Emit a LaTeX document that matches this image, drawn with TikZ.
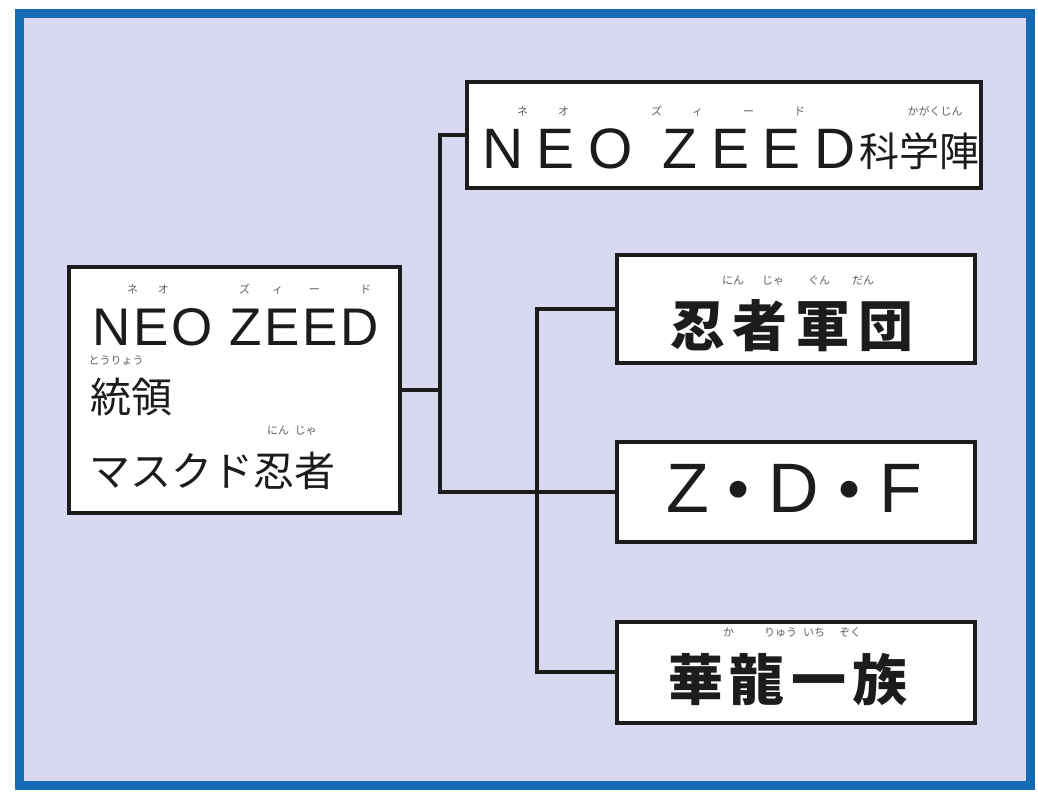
\documentclass[tikz,border=0pt]{standalone}
\usepackage{fontspec}
\setmainfont{Noto Sans CJK JP}
\newfontfamily\lat{Liberation Sans}
\newfontfamily\jp{Noto Sans CJK JP}
\definecolor{bgfill}{RGB}{216,216,240}
\definecolor{frameblue}{RGB}{22,108,180}
\definecolor{ink}{RGB}{28,28,28}
\definecolor{rubycol}{RGB}{95,95,95}
\begin{document}
\begin{tikzpicture}[x=1pt,y=-1pt,
  box/.style={draw=ink,line width=4pt,fill=white,inner sep=0pt},
  txt/.style={inner sep=0pt,anchor=base west,text=ink},
  ruby/.style={inner sep=0pt,anchor=base,text=rubycol,font=\jp\fontsize{11}{11}\selectfont},
  conn/.style={draw=ink,line width=4pt,line cap=rect}]
\useasboundingbox (0,0) rectangle (1038,793);
\fill[white] (0,0) rectangle (1038,793);
\draw[frameblue,fill=bgfill,line width=9pt] (19,13) rectangle (1030,785);
% boxes
\node[box,minimum width=331pt,minimum height=246pt] (b1) at (234.5,390) {};
\node[box,minimum width=514pt,minimum height=106pt] (top) at (724,135) {};
\node[box,minimum width=358pt,minimum height=108pt] (ninja) at (796,309) {};
\node[box,minimum width=358pt,minimum height=100pt] (zdf) at (796,492) {};
\node[box,minimum width=358pt,minimum height=101pt] (karyu) at (796,672) {};
% connectors
\coordinate (j1) at (440,390);
\coordinate (j2) at (537,492);
\draw[conn] (b1.east) -- (j1);
\draw[conn] (top.west) -| (j1) |- (zdf.west);
\draw[conn] (ninja.west) -| (j2) |- (karyu.west);
% box 1 text
\node[txt,font=\lat\fontsize{53}{53}\selectfont\addfontfeature{LetterSpace=5}] (t1a) at (92,345) {NEO ZEED};
\node[ruby] (r1a) at (148,293) {ネ\hspace{20pt}オ};
\node[ruby] (r1b) at (305,293) {ズ\hspace{22pt}ィ\hspace{26pt}ー\hspace{40pt}ド};
\node[txt,font=\jp\fontsize{41}{41}\selectfont] (t1b) at (90,412) {統領};
\node[ruby] (r1c) at (116,364) {とうりょう};
\node[txt,font=\jp\fontsize{41}{41}\selectfont] (t1c) at (89,486) {マスクド忍者};
\node[ruby] (r1d) at (292,434) {にん\hspace{6pt}じゃ};
% top box text
\node[txt,font=\lat\fontsize{57}{57}\selectfont\addfontfeature{LetterSpace=24}] (t2a) at (482,168) {NEO ZEED};
\node[txt,font=\jp\fontsize{40}{40}\selectfont] (t2b) at (859,166) {科学陣};
\node[ruby] (r2a) at (543,115) {ネ\hspace{30pt}オ};
\node[ruby] (r2b) at (728,115) {ズ\hspace{30pt}ィ\hspace{40pt}ー\hspace{40pt}ド};
\node[ruby] (r2c) at (935,115) {かがくじん};
% ninja
\node[txt,font=\jp\bfseries\fontsize{55}{55}\selectfont\addfontfeature{LetterSpace=14}] (t3) at (670,346) {忍者軍団};
\node[ruby] (r3) at (798,284) {にん\hspace{18pt}じゃ\hspace{24pt}ぐん\hspace{22pt}だん};
% zdf
\node[txt,font=\lat\fontsize{70}{70}\selectfont] (t4) at (666,512) {Z{\jp\bfseries\fontsize{60}{60}\selectfont ・}D{\jp\bfseries\fontsize{60}{60}\selectfont ・}F};
% karyu
\node[txt,font=\jp\bfseries\fontsize{55}{55}\selectfont\addfontfeature{LetterSpace=12}] (t5) at (668,700) {華龍一族};
\node[ruby] (r5) at (792,636) {か\hspace{30pt}りゅう\hspace{6pt}いち\hspace{14pt}ぞく};
\end{tikzpicture}
\end{document}
